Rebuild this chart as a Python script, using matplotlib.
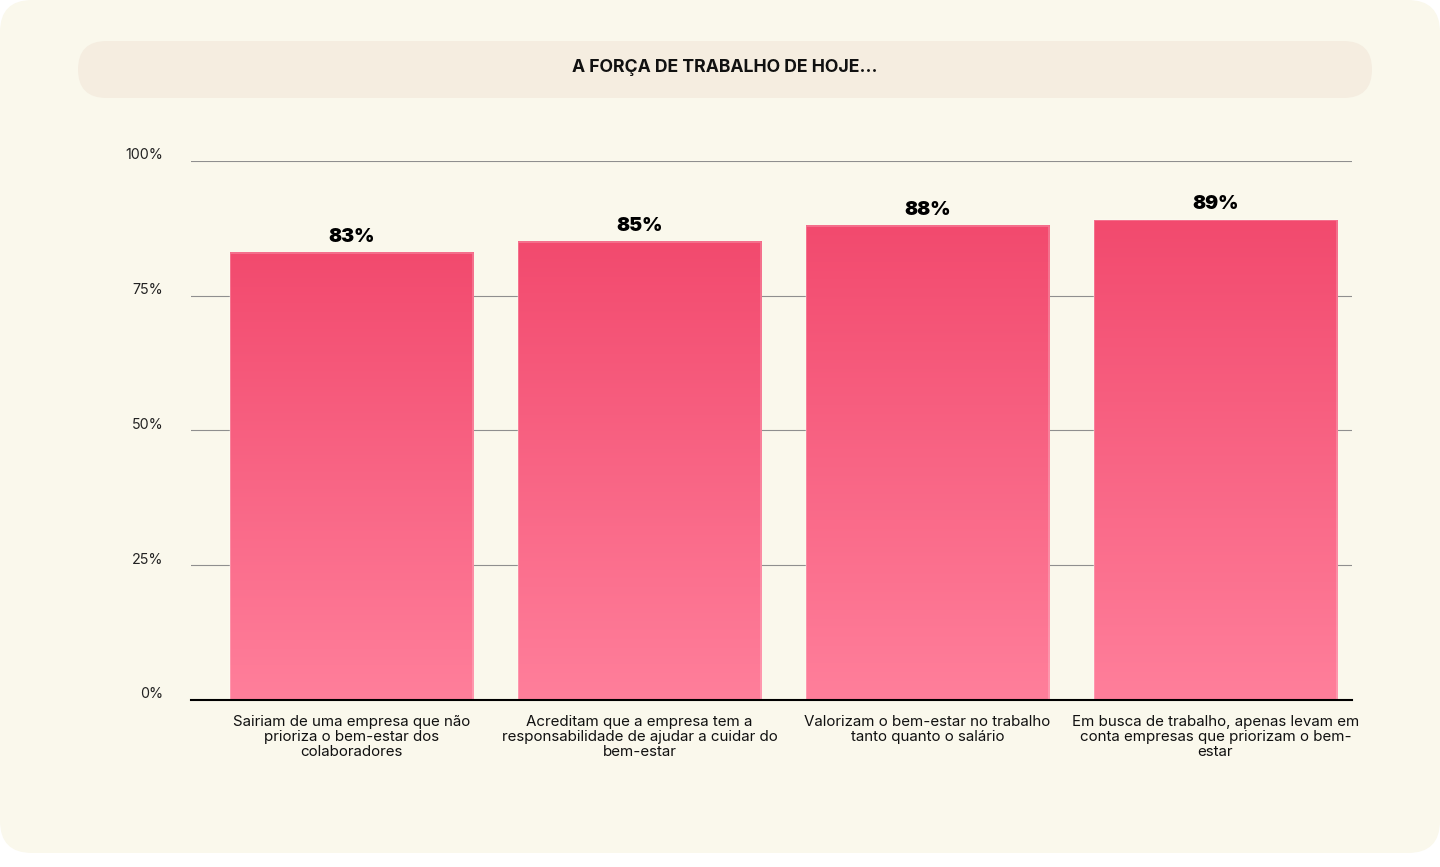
import numpy as np
import matplotlib.pyplot as plt
from matplotlib.patches import FancyBboxPatch
from matplotlib.colors import LinearSegmentedColormap
from matplotlib.transforms import IdentityTransform, ScaledTranslation

# dados
categorias = [
    'Sairiam de uma empresa que não\nprioriza o bem-estar dos\ncolaboradores',
    'Acreditam que a empresa tem a\nresponsabilidade de ajudar a cuidar do\nbem-estar',
    'Valorizam o bem-estar no trabalho\ntanto quanto o salário',
    'Em busca de trabalho, apenas levam em\nconta empresas que priorizam o bem-\nestar',
]
valores = [83, 85, 88, 89]
yticks = [0, 25, 50, 75, 100]
ytick_labels = ['0%', '25%', '50%', '75%', '100%']
titulo = 'A FORÇA DE TRABALHO DE HOJE...'

plt.rcParams['font.family'] = ['Inter', 'DejaVu Sans']

W, H = 1440, 867
fig = plt.figure(figsize=(W / 100, H / 100), dpi=100)
fig.patch.set_facecolor('white')

# cartão de fundo e faixa do título (em pixels)
card = FancyBboxPatch((0, H - 853), W, 853, boxstyle='round,pad=0,rounding_size=32',
                      transform=IdentityTransform(), fc='#FAF8EC', ec='none', zorder=-3)
fig.add_artist(card)
pill = FancyBboxPatch((78, H - 98), 1294, 57, boxstyle='round,pad=0,rounding_size=28.5',
                      transform=IdentityTransform(), fc='#F5EDE0', ec='none', zorder=-2)
fig.add_artist(pill)
fig.text(725 / W, 1 - 65 / H, titulo, ha='center', va='center_baseline',
         fontsize=12.7, fontweight='bold', color='#111111')

ax = fig.add_axes([191 / W, (H - 700) / H, 1161 / W, 539 / H])
ax.set_facecolor('none')

cmap = LinearSegmentedColormap.from_list('rosa', ['#FF7F9B', '#F24A6E'])
grad = np.linspace(0, 1, 256).reshape(-1, 1)
x = np.arange(len(valores))
largura = 0.844
for xi, v in zip(x, valores):
    ax.imshow(grad, extent=(xi - largura / 2, xi + largura / 2, 0, v), origin='lower',
              aspect='auto', cmap=cmap, zorder=2)
    ax.annotate(f'{v}%', (xi, v), xytext=(0, 5), textcoords='offset points',
                ha='center', va='bottom', fontsize=14, fontweight='black', color='#000000')
# borda clara das barras
ax.bar(x, valores, width=largura, fc='none', ec=(1, 1, 1, 0.25), lw=1.2, zorder=2.5)

ax.set_xlim(-0.5573, 3.474)
ax.set_ylim(0, 100)
ax.set_xticks(x, categorias, fontsize=10.9, linespacing=1.08, color='#111111')
ax.set_yticks(yticks, ytick_labels, fontsize=10.3, color='#222222')
ax.tick_params(axis='x', length=0, pad=11)
ax.tick_params(axis='y', length=0, pad=20)
for lab in ax.get_yticklabels():
    lab.set_transform(lab.get_transform() + ScaledTranslation(0, 0.07, fig.dpi_scale_trans))

ax.yaxis.grid(True, color='#8f8f8f', lw=0.8)
ax.set_axisbelow(True)
for s in ['top', 'left', 'right']:
    ax.spines[s].set_visible(False)
ax.spines['bottom'].set_color('black')
ax.spines['bottom'].set_linewidth(1.5)
ax.spines['bottom'].set_zorder(3)

fig.savefig('out.png', dpi=100, facecolor=fig.get_facecolor())
